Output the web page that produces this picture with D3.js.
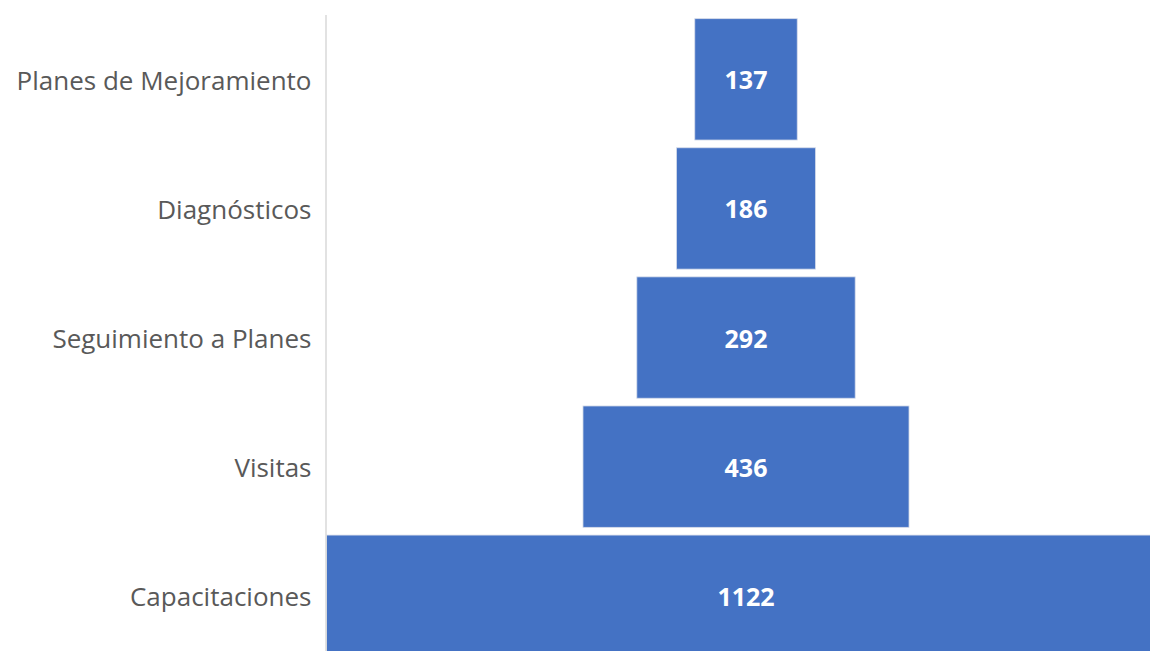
<!DOCTYPE html>
<html>
<head>
<meta charset="utf-8">
<script src="https://cdn.jsdelivr.net/npm/d3@7"></script>
<style>
  body { margin: 0; background: #fff; }
  svg { display: block; }
</style>
</head>
<body>
<div class="funnel"></div>
<script>
var categories = ["Planes de Mejoramiento", "Diagnósticos", "Seguimiento a Planes", "Visitas", "Capacitaciones"];
var values = [137, 186, 292, 436, 1122];

var svgWidth = 1150;
var svgHeight = 651;

var axisX = 326.5;
var plotWidth = 839;

var svg = d3.select(".funnel")
  .append("svg")
  .attr("width", svgWidth)
  .attr("height", svgHeight);

var data = categories.map(function(c, i) {
  return { name: c, value: values[i] };
});

// width scale, bars centred on the middle of the plot area
var xScale = d3.scaleLinear()
  .domain([0, d3.max(values)])
  .range([0, plotWidth]);
var centerX = axisX + plotWidth / 2;

var yScale = d3.scaleBand()
  .domain(categories)
  .range([14.8, 660.3])
  .paddingInner(0.06)
  .paddingOuter(0.03);

svg.selectAll("rect.bar")
  .data(data)
  .enter()
  .append("rect")
  .attr("class", "bar")
  .attr("x", function(d) { return centerX - xScale(d.value) / 2; })
  .attr("y", function(d) { return yScale(d.name); })
  .attr("width", function(d) { return xScale(d.value); })
  .attr("height", yScale.bandwidth())
  .attr("fill", "#4472C4")
  .attr("stroke", "#d6dcea")
  .attr("stroke-width", 0.8);

svg.selectAll("text.val")
  .data(data)
  .enter()
  .append("text")
  .attr("class", "val")
  .attr("x", centerX)
  .attr("y", function(d) { return yScale(d.name) + yScale.bandwidth() / 2; })
  .attr("dy", "0.4em")
  .attr("text-anchor", "middle")
  .attr("font-family", "'Open Sans', sans-serif")
  .attr("font-weight", "bold")
  .attr("font-size", "25px")
  .attr("fill", "#fff")
  .text(function(d) { return d.value; });

// category axis
var leftAxis = d3.axisLeft(yScale).tickSize(0).tickPadding(15);
var axisG = svg.append("g")
  .attr("transform", "translate(" + axisX + ",0)")
  .call(leftAxis);
axisG.select(".domain").remove();
axisG.selectAll("text")
  .attr("dy", "0.4em")
  .attr("font-family", "'Open Sans', sans-serif")
  .attr("font-size", "26px")
  .attr("fill", "#595959");

svg.append("line")
  .attr("x1", axisX - 0.5)
  .attr("x2", axisX - 0.5)
  .attr("y1", 15)
  .attr("y2", svgHeight)
  .attr("stroke", "#d9d9d9")
  .attr("stroke-width", 1.5);
</script>
</body>
</html>
